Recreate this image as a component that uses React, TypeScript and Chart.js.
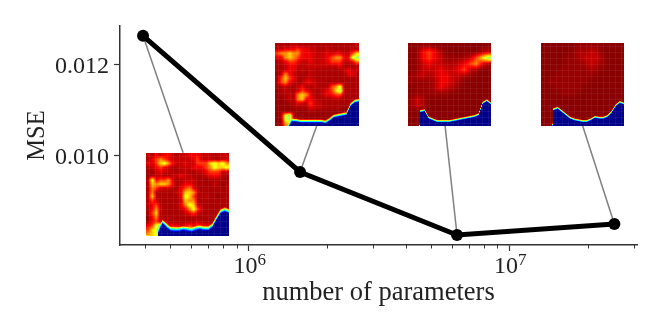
import { useEffect, useRef } from "react";
import { Chart, registerables } from "chart.js";

Chart.register(...registerables);

// Series
const parameters = [3.93e5, 1.574e6, 6.3e6, 2.53e7];
const mse = [0.012625, 0.00964, 0.00826, 0.0085];

// Where each grey connector meets its inset
const connectorX = [5.6e5, 1.823e6, 5.67e6, 1.913e7];
const connectorY = [0.01006, 0.01065, 0.01065, 0.01065];

// Inset extents in data units
const insetLeft = [4.04e5, 1.265e6, 4.086e6, 1.323e7];
const insetRight = [8.4e5, 2.643e6, 8.53e6, 2.762e7];
const insetTop = [0.010066, 0.012471, 0.012471, 0.012471];
const insetBottom = [0.008246, 0.010651, 0.010651, 0.010651];

// Axis ticks
const xMajorTicks = [1e6, 1e7];
const xMajorExponents = ["6", "7"];
const xMinorTicks = [4e5, 5e5, 6e5, 7e5, 8e5, 9e5, 2e6, 3e6, 4e6, 5e6, 6e6, 7e6, 8e6, 9e6, 2e7, 3e7];
const yTicks = [0.01, 0.012];

// Inset fields: digit = heat level, 0 dark red ... 9 green-cyan
const field1 = [
  "32434432334443332333",
  "24565433333453332233",
  "43578643343355578786",
  "23454322333444568778",
  "21343322232233455533",
  "12332233433222344422",
  "28455632233322122221",
  "27677642344322223212",
  "26533322456422222222",
  "26222223477632222222",
  "27322222487522322122",
  "25322222376622222222",
  "34522222468732222222",
  "24632222346853222222",
  "25722222234532222222",
  "14622222222222222222",
  "14533222222232221222",
  "45897444345454433322",
  "57898776787887766600",
  "67899999999999999999",
];
const field2 = [
  "22223222222222222223",
  "33444544332232222232",
  "56676644433343443357",
  "44676544433345664489",
  "23455433433345553346",
  "22344323333333342222",
  "22344232322222223433",
  "13643222322222222442",
  "25754223322222222222",
  "25643224432222222222",
  "22322342232225682222",
  "12322354322345793222",
  "12232676422344552222",
  "11232674432222322222",
  "11122433533222222222",
  "11112222433222221111",
  "11111111211111111111",
  "12892111111111111111",
  "11892111111111111332",
  "11671111111111113344",
];
const field3 = [
  "00110000000000",
  "01454200000023",
  "01454311123579",
  "01343322345642",
  "01333433453200",
  "12323443321000",
  "11112443200000",
  "01112432100000",
  "01111110000000",
  "13200000000000",
  "13200000000000",
  "00000000000000",
  "00000000000000",
  "00000000000000",
];
const field4 = [
  "00000011110000",
  "00000122320000",
  "00001123331000",
  "00001112321000",
  "00011111210000",
  "00111111100000",
  "01111111000000",
  "00111110000000",
  "00011100000000",
  "00000000000000",
  "00000000000000",
  "00000000000000",
  "00000000000000",
  "00000000000000",
];
const fields = [field1, field2, field3, field4];

// Height of the blue region across each inset, in percent of the inset
const blue1 = [-2, -2, -60, 6, 17, 12, 8, 8, 8, 9, 8, 7, 9, 10, 9, 9, 13, 22, 30, 32, 30];
const blue2 = [-2, -2, -2, -2, 7, 7, 6, 6, 6, 6, 6, 6, 5, 8, 12, 13, 14, 15, 26, 30, 31];
const blue3 = [-2, -2, -60, 18, 19, 10, 8, 6, 6, 6, 6, 7, 8, 9, 10, 11, 12, 14, 28, 31, 27];
const blue4 = [-2, -2, -60, 20, 22, 18, 14, 10, 8, 7, 6, 6, 8, 11, 10, 10, 12, 17, 25, 29, 27];
const blues = [blue1, blue2, blue3, blue4];
const rimWidths = [5.5, 4, 3, 3];

const heatLevels = [0.99, 0.975, 0.955, 0.93, 0.89, 0.82, 0.74, 0.67, 0.6, 0.52];

const FONT = '"Liberation Serif", serif';
const INK = "#333333";
const TEXT = "#222222";
const clamp = (v: number) => Math.max(0, Math.min(1, v));

function jet(v: number): [number, number, number] {
  return [
    255 * clamp(1.5 - Math.abs(4 * v - 3)),
    255 * clamp(1.5 - Math.abs(4 * v - 2)),
    255 * clamp(1.5 - Math.abs(4 * v - 1)),
  ];
}

function renderInset(field: string[], blue: number[], rim: number): HTMLCanvasElement {
  const S = 83;
  const c = document.createElement("canvas");
  c.width = S;
  c.height = S;
  const ctx = c.getContext("2d")!;
  const img = ctx.createImageData(S, S);
  const n = field.length;
  const at = (r: number, col: number) =>
    heatLevels[+field[Math.min(n - 1, r)][Math.min(n - 1, col)]];
  for (let py = 0; py < S; py++) {
    for (let px = 0; px < S; px++) {
      const fx = Math.max(0, ((px + 0.5) / S) * n - 0.5);
      const fy = Math.max(0, ((py + 0.5) / S) * n - 0.5);
      const x0 = Math.floor(fx);
      const y0 = Math.floor(fy);
      const tx = fx - x0;
      const ty = fy - y0;
      let v =
        at(y0, x0) * (1 - tx) * (1 - ty) +
        at(y0, x0 + 1) * tx * (1 - ty) +
        at(y0 + 1, x0) * (1 - tx) * ty +
        at(y0 + 1, x0 + 1) * tx * ty;
      const bx = ((px + 0.5) / S) * (blue.length - 1);
      const b0 = Math.min(blue.length - 2, Math.floor(bx));
      const h = ((blue[b0] + (blue[b0 + 1] - blue[b0]) * (bx - b0)) / 100) * S;
      const t = clamp((h - (S - py - 0.5) + rim / 2) / rim);
      v = v * (1 - t) + 0.01 * t;
      const [r, g, b] = jet(v);
      const i = (py * S + px) * 4;
      img.data[i] = r;
      img.data[i + 1] = g;
      img.data[i + 2] = b;
      img.data[i + 3] = 255;
    }
  }
  ctx.putImageData(img, 0, 0);
  ctx.fillStyle = "rgba(255,255,255,0.06)";
  for (let k = 3; k < S; k += 5.93) {
    ctx.fillRect(Math.round(k), 0, 1, S);
    ctx.fillRect(0, Math.round(k), S, 1);
  }
  return c;
}

const insetPlugin = {
  id: "insets",
  afterDatasetsDraw(chart: any) {
    const { ctx, scales } = chart;
    ctx.save();
    fields.forEach((f, i) => {
      const img = renderInset(f, blues[i], rimWidths[i]);
      const l = Math.round(scales.x.getPixelForValue(insetLeft[i]));
      const r = Math.round(scales.x.getPixelForValue(insetRight[i]));
      const t = Math.round(scales.y.getPixelForValue(insetTop[i]));
      const b = Math.round(scales.y.getPixelForValue(insetBottom[i]));
      ctx.drawImage(img, l, t, r - l, b - t);
    });
    ctx.restore();
  },
  afterDraw(chart: any) {
    const { ctx, scales, chartArea } = chart;
    ctx.save();
    ctx.strokeStyle = INK;
    ctx.lineWidth = 1;
    xMinorTicks.forEach((v) => {
      const x = Math.round(scales.x.getPixelForValue(v)) + 0.5;
      ctx.beginPath();
      ctx.moveTo(x, chartArea.bottom);
      ctx.lineTo(x, chartArea.bottom + 3.5);
      ctx.stroke();
    });
    // Decade labels: "10" with a raised exponent
    ctx.fillStyle = TEXT;
    ctx.textBaseline = "alphabetic";
    ctx.textAlign = "left";
    const baseFont = `24px ${FONT}`;
    const expFont = `17px ${FONT}`;
    xMajorTicks.forEach((v, i) => {
      ctx.font = baseFont;
      const w10 = ctx.measureText("10").width;
      ctx.font = expFont;
      const wExp = ctx.measureText(xMajorExponents[i]).width;
      const x0 = scales.x.getPixelForValue(v) - (w10 + wExp) / 2 + 1;
      const y0 = chartArea.bottom + 28;
      ctx.font = baseFont;
      ctx.fillText("10", x0, y0);
      ctx.font = expFont;
      ctx.fillText(xMajorExponents[i], x0 + w10, y0 - 8);
    });
    ctx.restore();
  },
};

export default function App() {
  const ref = useRef<HTMLCanvasElement>(null);
  useEffect(() => {
    const connectors = parameters.map((p, i) => ({
      data: [
        { x: p, y: mse[i] },
        { x: connectorX[i], y: connectorY[i] },
      ],
      borderColor: "#808080",
      borderWidth: 1.5,
      pointRadius: 0,
      order: 2,
      clip: false,
    }));
    const chart = new Chart(ref.current!, {
      type: "line",
      plugins: [insetPlugin],
      data: {
        datasets: [
          {
            data: parameters.map((p, i) => ({ x: p, y: mse[i] })),
            borderColor: "#000000",
            backgroundColor: "#000000",
            borderWidth: 5,
            pointRadius: 6,
            pointHoverRadius: 6,
            pointBorderWidth: 0,
            order: 0,
            clip: false,
          },
          ...connectors,
        ],
      } as any,
      options: {
        responsive: false,
        animation: false,
        layout: { padding: { top: 26, right: 27, left: 0, bottom: 0 } },
        plugins: { legend: { display: false }, tooltip: { enabled: false } },
        scales: {
          x: {
            type: "logarithmic",
            min: 10 ** 5.506,
            max: 10 ** 7.49,
            afterBuildTicks: (s: any) => {
              s.ticks = xMajorTicks.map((value) => ({ value, major: true }));
            },
            afterFit: (s: any) => {
              s.height = 87;
            },
            grid: { drawOnChartArea: false, tickLength: 6, tickColor: INK, tickWidth: 1.2 },
            border: { color: INK, width: 1.5 },
            ticks: {
              display: false,
            },
            title: {
              display: true,
              text: "number of parameters",
              color: TEXT,
              font: { family: FONT, size: 26.5 },
              padding: { top: 0, bottom: 23 },
            },
          },
          y: {
            type: "linear",
            min: 0.00804,
            max: 0.01284,
            afterBuildTicks: (s: any) => {
              s.ticks = yTicks.map((value) => ({ value }));
            },
            afterFit: (s: any) => {
              s.width = 120;
            },
            grid: { drawOnChartArea: false, tickLength: 6, tickColor: INK, tickWidth: 1.2 },
            border: { color: INK, width: 1.5 },
            ticks: {
              padding: 5,
              labelOffset: 2,
              color: TEXT,
              font: { family: FONT, size: 24 },
              callback: (v: any) => Number(v).toFixed(3),
            },
            title: {
              display: true,
              text: "MSE",
              color: TEXT,
              font: { family: FONT, size: 24.5 },
              padding: { top: 23, bottom: 0 },
            },
          },
        },
      },
    } as any);
    return () => chart.destroy();
  }, []);
  return (
    <canvas
      ref={ref}
      width={664}
      height={332}
      style={{ position: "absolute", left: 0, top: 0, width: 664, height: 332 }}
    />
  );
}
